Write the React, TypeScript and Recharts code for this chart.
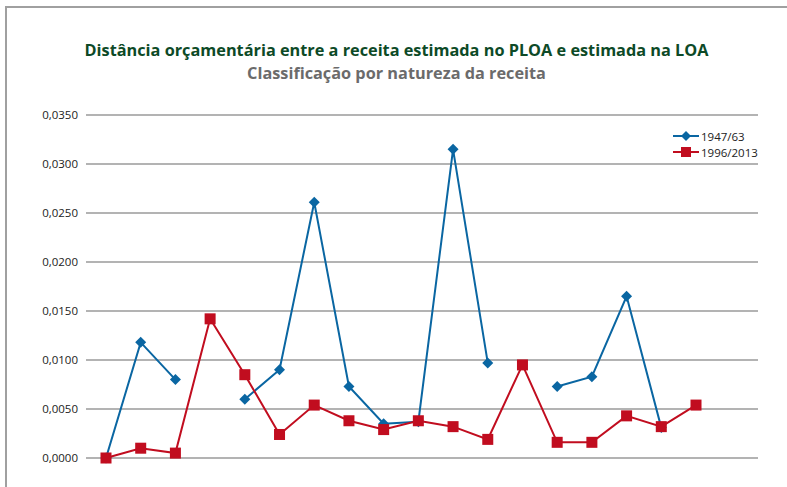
import { LineChart, Line, XAxis, YAxis, CartesianGrid } from "recharts"

// categories have no visible labels in the source, so plain indices
const categories = ["1", "2", "3", "4", "5", "6", "7", "8", "9", "10", "11", "12", "13", "14", "15", "16", "17", "18"]
const serie1947: (number | null)[] = [0.0, 0.0118, 0.008, null, 0.006, 0.009, 0.0261, 0.0073, 0.0035, 0.0037, 0.0315, 0.0097, null, 0.0073, 0.0083, 0.0165, 0.0031, null]
const serie1996: number[] = [0.0, 0.001, 0.0005, 0.0142, 0.0085, 0.0024, 0.0054, 0.0038, 0.0029, 0.0038, 0.0032, 0.0019, 0.0095, 0.0016, 0.0016, 0.0043, 0.0032, 0.0054]
const yTicks = [0, 0.005, 0.01, 0.015, 0.02, 0.025, 0.03, 0.035]

const BLUE = "#0a66a2"
const RED = "#c10d1f"
const FONT = "'Open Sans', 'Noto Sans', sans-serif"

const data = categories.map((c, i) => ({ name: c, a: serie1947[i], b: serie1996[i] }))

const Diamond = (props: any) => {
  const { cx, cy, index } = props
  if (cx == null || cy == null || props.value == null) return <g key={`d-${index}`} />
  const r = 5.5
  return (
    <path
      key={`d-${index}`}
      d={`M${cx},${cy - r} L${cx + r},${cy} L${cx},${cy + r} L${cx - r},${cy} Z`}
      fill={BLUE}
    />
  )
}

const Square = (props: any) => {
  const { cx, cy, index } = props
  if (cx == null || cy == null) return <g key={`s-${index}`} />
  const s = 5.5
  return <rect key={`s-${index}`} x={cx - s} y={cy - s} width={s * 2} height={s * 2} fill={RED} />
}

// legend drawn outside the chart so it does not shrink the plot area
const LegendBox = () => {
  const items = [
    { label: "1947/63", color: BLUE, kind: "d" },
    { label: "1996/2013", color: RED, kind: "s" },
  ]
  return (
    <div style={{ position: "absolute", left: 673, top: 128, fontFamily: FONT, fontSize: 11.5, lineHeight: "13px", color: "#222" }}>
      {items.map((it) => (
        <div key={it.label} style={{ display: "flex", alignItems: "center", height: 16 }}>
          <svg width={26} height={12} style={{ marginRight: 2 }}>
            <line x1={0} y1={6} x2={26} y2={6} stroke={it.color} strokeWidth={2} />
            {it.kind === "d" ? (
              <path d="M13,1 L18,6 L13,11 L8,6 Z" fill={it.color} />
            ) : (
              <rect x={8} y={1} width={10} height={10} fill={it.color} />
            )}
          </svg>
          <span>{it.label}</span>
        </div>
      ))}
    </div>
  )
}

export default function App() {
  return (
    <div style={{ position: "absolute", left: 0, top: 0, width: 787, height: 487, background: "#fff" }}>
      {/* frame */}
      <div
        style={{
          position: "absolute",
          left: 5,
          top: 6,
          width: 782,
          height: 481,
          borderTop: "2px solid #a0a0a0",
          borderLeft: "2px solid #a0a0a0",
          boxSizing: "border-box",
        }}
      />
      <div
        style={{
          position: "absolute",
          left: 0,
          width: 793,
          top: 39,
          textAlign: "center",
          fontFamily: FONT,
          fontWeight: 700,
          fontSize: 16.3,
          color: "#0d4a27",
          whiteSpace: "nowrap",
        }}
      >
        Distância orçamentária entre a receita estimada no PLOA e estimada na LOA
      </div>
      <div
        style={{
          position: "absolute",
          left: 0,
          width: 793,
          top: 62,
          textAlign: "center",
          fontFamily: FONT,
          fontWeight: 700,
          fontSize: 16.3,
          color: "#6b6b6b",
          whiteSpace: "nowrap",
        }}
      >
        Classificação por natureza da receita
      </div>
      <div style={{ position: "absolute", left: 0, top: 0 }}>
        <LineChart width={787} height={487} data={data} margin={{ top: 115, right: 29, bottom: 29, left: 0 }}>
          <CartesianGrid vertical={false} stroke="#9a9a9a" strokeWidth={1.5} />
          <XAxis dataKey="name" hide padding={{ left: 20, right: 62 }} />
          <YAxis
            width={86}
            domain={[0, 0.035]}
            ticks={yTicks}
            axisLine={false}
            tickLine={false}
            tickSize={0}
            tickMargin={8}
            tickFormatter={(v: number) => v.toFixed(4).replace(".", ",")}
            tick={{ fontFamily: FONT, fontSize: 11.5, fill: "#222" }}
          />
          <Line
            type="linear"
            dataKey="a"
            name="1947/63"
            stroke={BLUE}
            strokeWidth={2}
            dot={Diamond}
            activeDot={false}
            connectNulls={false}
            isAnimationActive={false}
          />
          <Line
            type="linear"
            dataKey="b"
            name="1996/2013"
            stroke={RED}
            strokeWidth={2}
            dot={Square}
            activeDot={false}
            isAnimationActive={false}
          />
        </LineChart>
      </div>
      <LegendBox />
    </div>
  )
}
